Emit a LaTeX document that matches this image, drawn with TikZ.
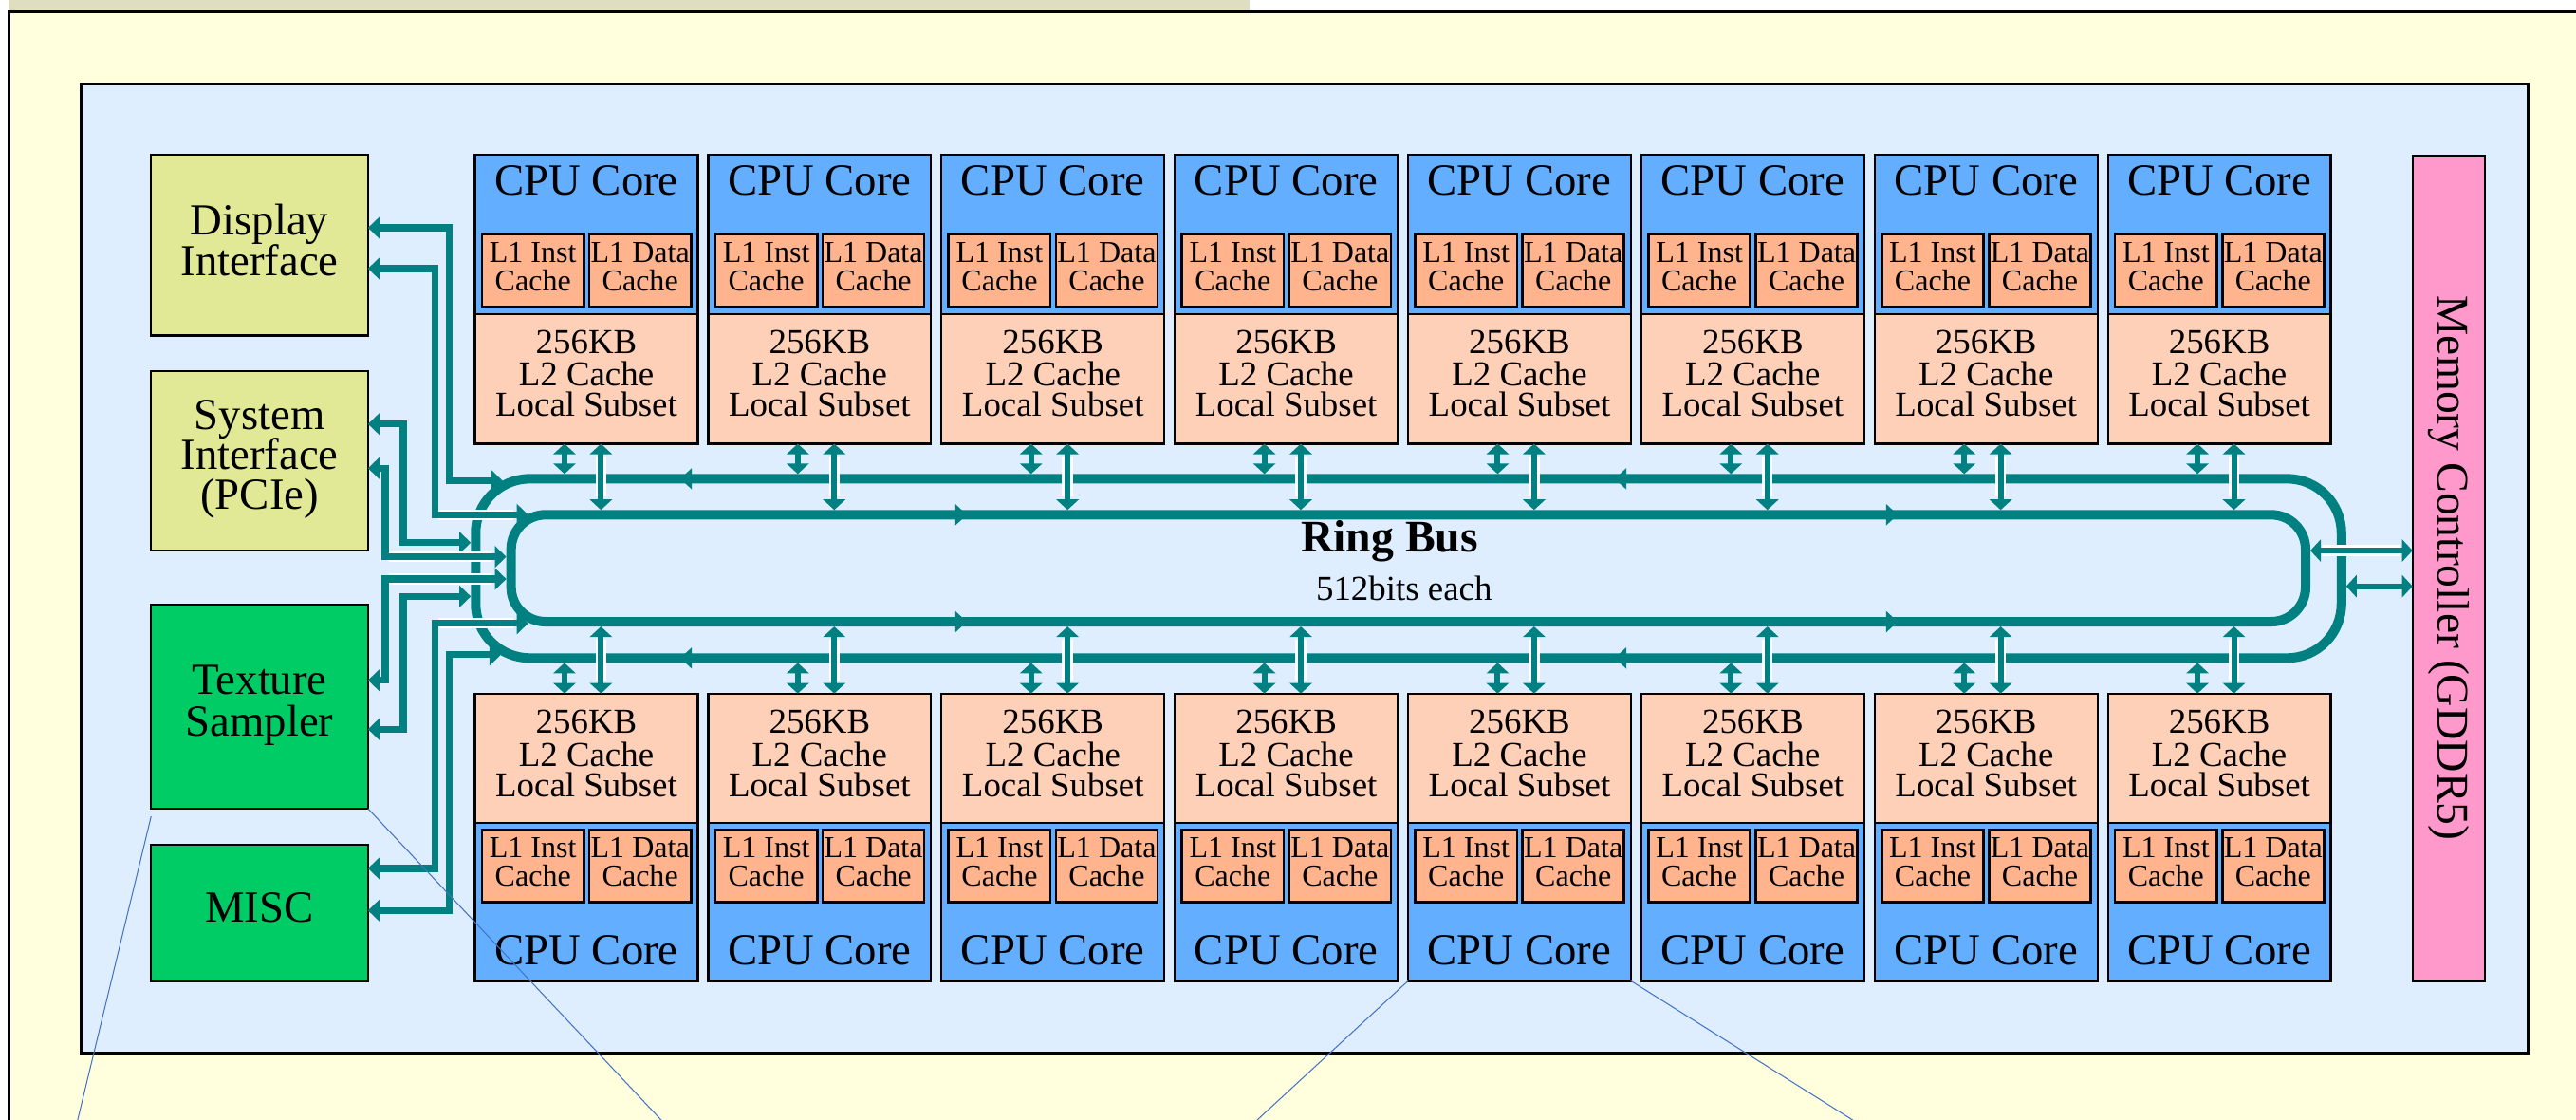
\documentclass[tikz,border=0pt]{standalone}
\usepackage{fontspec}
\setmainfont{Liberation Serif}
\usetikzlibrary{arrows.meta,calc}
\definecolor{cream}{RGB}{255,255,222}
\definecolor{khaki}{RGB}{224,222,192}
\definecolor{panelblue}{RGB}{222,238,255}
\definecolor{ifacegreen}{RGB}{225,232,150}
\definecolor{unitgreen}{RGB}{0,204,102}
\definecolor{coreblue}{RGB}{99,174,255}
\definecolor{lonecol}{RGB}{255,180,142}
\definecolor{ltwocol}{RGB}{255,208,184}
\definecolor{memcol}{RGB}{255,153,204}
\definecolor{busteal}{RGB}{0,128,128}
\definecolor{calloutblue}{RGB}{68,114,196}
\begin{document}
\begin{tikzpicture}[x=1pt,y=-1pt,
  unitbox/.style={draw=black,line width=1.3pt,inner sep=0pt,outer sep=0pt},
  lonebox/.style={draw=black,line width=1.5pt,inner sep=0pt,outer sep=0pt,fill=lonecol,minimum height=44pt},
  bigtxt/.style={anchor=base,inner sep=0pt,font=\fontsize{27}{25}\selectfont},
  midtxt/.style={anchor=base,inner sep=0pt,font=\fontsize{21.3}{19.4}\selectfont},
  smalltxt/.style={anchor=base,inner sep=0pt,font=\fontsize{18.5}{17.2}\selectfont},
  ringline/.style={draw=busteal,line width=5.8pt,inner sep=0pt},
  conn/.style={draw=busteal,line width=4.2pt,>={Triangle[length=7pt,width=13pt]},<->},
  dbl/.style={draw=busteal,line width=3.5pt,>={Triangle[length=6.4pt,width=13.4pt]},<->},
  halo/.style={draw=white,line width=6.6pt},
  callout/.style={draw=calloutblue,line width=0.6pt}
]
\useasboundingbox (0,0) rectangle (1568,681);
% background
\begin{scope}
  \clip (0,0) rectangle (1568,681);
  \fill[white] (0,0) rectangle (1568,681);
  \fill[khaki] (5.2,0) rectangle (760.6,6.4);
  \fill[cream] (5.6,7.4) rectangle (1580,700);
  \draw[line width=1.6pt] (5.6,700) -- (5.6,7.4) -- (1580,7.4);
\end{scope}
% panel
\node[draw=black,line width=1.8pt,fill=panelblue,inner sep=0pt,outer sep=0pt,
      minimum width=1489.8pt,minimum height=590pt] (panel) at (794.1,346) {};
% left units
\node[unitbox,fill=ifacegreen,minimum width=132pt,minimum height=109.8pt] (disp) at (158,149.2) {};
\node[unitbox,fill=ifacegreen,minimum width=132pt,minimum height=109.4pt] (sys) at (158,280.3) {};
\node[unitbox,fill=unitgreen,minimum width=132pt,minimum height=124.3pt] (tex) at (158,429.85) {};
\node[unitbox,fill=unitgreen,minimum width=132pt,minimum height=83pt] (misc) at (158,555.5) {};
\node[unitbox,fill=memcol,minimum width=44.1pt,minimum height=502.3pt] (mem) at (1490.55,345.65) {};
\node[bigtxt] (dispA) at (158,142.8) {Display};
\node[bigtxt] (dispB) at (158,167.5) {Interface};
\node[bigtxt] (sysA) at (158,261.4) {System};
\node[bigtxt] (sysB) at (158,285.5) {Interface};
\node[bigtxt] (sysC) at (158,310) {(PCIe)};
\node[bigtxt] (texA) at (158,422.6) {Texture};
\node[bigtxt] (texB) at (158,447.6) {Sampler};
\node[bigtxt] (miscA) at (158,561.2) {MISC};
\node[rotate=-90,inner sep=0pt,font=\fontsize{27.5}{30}\selectfont] (memT) at (mem.center) {Memory Controller (GDDR5)};
% CPU columns
\foreach \i in {0,...,7}{
  \pgfmathsetmacro{\colL}{289.1+142*\i}
  \pgfmathsetmacro{\colC}{\colL+67.8}
  \pgfmathsetmacro{\instC}{\colL+35.3}
  \pgfmathsetmacro{\dataC}{\colL+100.55}
  % top row
  \node[unitbox,fill=coreblue,minimum width=135.6pt,minimum height=96.7pt] (tc\i) at (\colC,142.65) {};
  \node[unitbox,fill=ltwocol,minimum width=135.6pt,minimum height=79pt] (tl\i) at (\colC,230.5) {};
  \node[lonebox,minimum width=62pt] (ti\i) at (\instC,164.45) {};
  \node[lonebox,minimum width=61.9pt] (td\i) at (\dataC,164.45) {};
  \node[bigtxt] (tcT\i) at (\colC,118.4) {CPU Core};
  \node[smalltxt] (tiA\i) at (\instC,159.8) {L1 Inst};
  \node[smalltxt] (tiB\i) at (\instC,177.1) {Cache};
  \node[smalltxt] (tdA\i) at (\dataC,159.8) {L1 Data};
  \node[smalltxt] (tdB\i) at (\dataC,177.1) {Cache};
  \node[midtxt] (tlA\i) at (\colC,214.9) {256KB};
  \node[midtxt] (tlB\i) at (\colC,234.9) {L2 Cache};
  \node[midtxt] (tlC\i) at (\colC,253.4) {Local Subset};
  % bottom row
  \node[unitbox,fill=coreblue,minimum width=135.6pt,minimum height=96.3pt] (bc\i) at (\colC,548.65) {};
  \node[unitbox,fill=ltwocol,minimum width=135.6pt,minimum height=78.5pt] (bl\i) at (\colC,461.25) {};
  \node[lonebox,minimum width=62pt] (bi\i) at (\instC,526.9) {};
  \node[lonebox,minimum width=61.9pt] (bd\i) at (\dataC,526.9) {};
  \node[midtxt] (blA\i) at (\colC,446.3) {256KB};
  \node[midtxt] (blB\i) at (\colC,466.3) {L2 Cache};
  \node[midtxt] (blC\i) at (\colC,485.0) {Local Subset};
  \node[smalltxt] (biA\i) at (\instC,521.9) {L1 Inst};
  \node[smalltxt] (biB\i) at (\instC,539.2) {Cache};
  \node[smalltxt] (bdA\i) at (\dataC,521.9) {L1 Data};
  \node[smalltxt] (bdB\i) at (\dataC,539.2) {Cache};
  \node[bigtxt] (bcT\i) at (\colC,587) {CPU Core};
}
% ring bus
\node[ringline,rounded corners=33pt,minimum width=1135.7pt,minimum height=109.1pt] (outer) at (857.35,345.85) {};
\node[ringline,rounded corners=21pt,minimum width=1092.3pt,minimum height=65.1pt] (inner) at (857.25,345.75) {};
\foreach \mx in {417.6,986.4}{
  \fill[busteal] (\mx-3.5,291.3) -- (\mx+3.5,284.8) -- (\mx+3.5,297.8) -- cycle;
  \fill[busteal] (\mx-3.5,400.4) -- (\mx+3.5,393.9) -- (\mx+3.5,406.9) -- cycle;
}
\foreach \mx in {585,1151.6}{
  \fill[busteal] (\mx+3.5,313.2) -- (\mx-3.5,306.7) -- (\mx-3.5,319.7) -- cycle;
  \fill[busteal] (\mx+3.5,378.3) -- (\mx-3.5,371.8) -- (\mx-3.5,384.8) -- cycle;
}
\node[anchor=base,inner sep=0pt,font=\bfseries\fontsize{27.5}{30}\selectfont] (ringT) at (845.8,336) {Ring Bus};
\node[midtxt] (ringS) at (854.6,365.4) {512bits each};
% cache <-> ring arrows
\foreach \i in {0,...,7}{
  \pgfmathsetmacro{\colL}{289.1+142*\i}
  \pgfmathsetmacro{\shortX}{\colL+54.5}
  \pgfmathsetmacro{\longX}{\colL+76.7}
  \draw[dbl] (tl\i.south -| \shortX,0) -- (outer.north -| \shortX,0);
  \draw[halo,shorten <=8pt,shorten >=8pt] (tl\i.south -| \longX,0) -- (inner.north -| \longX,0);
  \draw[dbl] (tl\i.south -| \longX,0) -- (inner.north -| \longX,0);
  \draw[dbl] (outer.south -| \shortX,0) -- (bl\i.north -| \shortX,0);
  \draw[halo,shorten <=8pt,shorten >=8pt] (inner.south -| \longX,0) -- (bl\i.north -| \longX,0);
  \draw[dbl] (inner.south -| \longX,0) -- (bl\i.north -| \longX,0);
}
% memory controller arrows
\draw[halo,shorten <=7pt,shorten >=8pt] (inner.east |- 0,335) -- (mem.west |- 0,335);
\draw[dbl] (inner.east |- 0,335) -- (mem.west |- 0,335);
\draw[dbl] (outer.east |- 0,356.7) -- (mem.west |- 0,356.7);
% left connectors
\coordinate (rD1) at (306,292.6);
\coordinate (rD2) at (321.5,313.2);
\coordinate (rS1) at (outer.west |- 0,330.2);
\coordinate (rS2) at (inner.west |- 0,338.8);
\coordinate (rT1) at (inner.west |- 0,352.3);
\coordinate (rT2) at (outer.west |- 0,362.9);
\coordinate (rM1) at (321.5,379.3);
\coordinate (rM2) at (305,398.3);
\draw[conn] (disp.east |- 0,138.6) -| (273.4,292.6) -- (rD1);
\draw[halo,shorten >=9pt] (266.8,313.2) -- (rD2);
\draw[conn] (disp.east |- 0,163.4) -| (264.7,313.2) -- (rD2);
\draw[conn] (sys.east |- 0,258) -| (245.5,330.2) -- (rS1);
\draw[halo,shorten >=9pt] (236.6,338.8) -- (rS2);
\draw[conn] (sys.east |- 0,284.9) -| (234.5,338.8) -- (rS2);
\draw[halo,shorten >=9pt] (236.6,352.3) -- (rT1);
\draw[conn] (tex.east |- 0,413.9) -| (234.5,352.3) -- (rT1);
\draw[conn] (tex.east |- 0,443.7) -| (245.5,362.9) -- (rT2);
\draw[halo,shorten >=9pt] (266.8,379.3) -- (rM1);
\draw[conn] (misc.east |- 0,528.4) -| (264.7,379.3) -- (rM1);
\draw[conn] (misc.east |- 0,554) -| (273.4,398.3) -- (rM2);
% callout lines
\coordinate (cA) at (45.2,690);
\coordinate (cB) at (410.5,690);
\coordinate (cC) at (756,690);
\coordinate (cD) at (1141.3,690);
\draw[callout] ($(tex.south west)+(0,4.7)$) -- (cA);
\draw[callout] (tex.south east) -- (cB);
\draw[callout] (bc4.south west) -- (cC);
\draw[callout] (bc4.south east) -- (cD);
\end{tikzpicture}
\end{document}
